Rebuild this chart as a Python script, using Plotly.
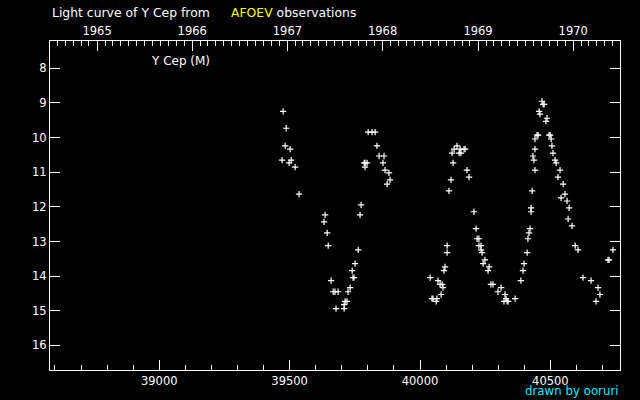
import datetime
import plotly.graph_objects as go

# JD - 2400000 and visual magnitude
jd = [39475, 39487, 39483, 39502, 39471, 39506, 39498, 39521, 39536,
      39636, 39632, 39644, 39648, 39659, 39667, 39674, 39686, 39678, 39709, 39709,
      39713, 39720, 39724, 39732, 39743, 39747, 39740, 39751, 39763, 39770, 39774,
      39789, 39797, 39786, 39789, 39801, 39816, 39828, 39835, 39843, 39862, 39858,
      39866, 39881, 39885, 39874,
      40039, 40069, 40077, 40085, 40088, 40081, 40046, 40050, 40065, 40062, 40096,
      40092, 40104, 40104, 40111, 40119, 40127, 40123, 40131, 40142, 40154, 40150,
      40157, 40169, 40173, 40180, 40188, 40207, 40215, 40219, 40226, 40226, 40234,
      40234, 40238, 40249, 40242, 40265, 40261, 40272, 40280, 40299, 40311, 40326,
      40330, 40322, 40334, 40338, 40365, 40387, 40395, 40399, 40411, 40414, 40418,
      40422, 40426, 40426, 40430, 40441, 40437, 40433, 40441, 40441, 40449, 40453,
      40457, 40460, 40468, 40472, 40476, 40487, 40483, 40495, 40499, 40503, 40506,
      40510, 40518, 40522, 40537, 40529, 40549, 40556, 40541, 40564, 40572, 40568,
      40583, 40595, 40606, 40625, 40656, 40683, 40690, 40675, 40721, 40725, 40740]
mag = [9.24, 9.73, 10.24, 10.33, 10.65, 10.65, 10.73, 10.85, 11.63,
       12.23, 12.43, 12.75, 13.12, 14.13, 14.45, 14.45, 14.45, 14.94, 14.94, 14.82,
       14.73, 14.73, 14.45, 14.33, 14.04, 14.04, 13.84, 13.64, 13.24, 12.23, 11.94,
       10.73, 10.73, 10.73, 10.85, 9.84, 9.84, 9.84, 10.24, 10.53, 10.53, 10.73,
       10.94, 11.02, 11.22, 11.34,
       14.04, 14.13, 14.24, 14.24, 14.33, 14.53, 14.65, 14.65, 14.65, 14.73, 13.73,
       13.84, 13.12, 13.32, 11.54, 11.22, 10.73, 10.45, 10.33, 10.24, 10.33, 10.45,
       10.45, 10.33, 10.33, 10.94, 11.14, 12.14, 12.63, 12.92, 12.92, 13.12, 13.12,
       13.24, 13.32, 13.53, 13.64, 13.73, 13.84, 14.24, 14.24, 14.45, 14.33, 14.53,
       14.65, 14.73, 14.73, 14.73, 14.65, 14.13, 13.84, 13.64, 13.32, 12.92, 12.75,
       12.63, 12.14, 12.03, 11.54, 10.94, 10.65, 10.53, 10.33, 10.04, 9.93, 9.93,
       9.24, 9.32, 8.95, 9.04, 9.04, 9.44, 9.53, 9.93, 9.93, 10.04, 10.24,
       10.45, 10.65, 10.73, 10.94, 11.14, 11.34, 11.63, 11.74, 11.83, 12.03, 12.35,
       12.55, 13.12, 13.24, 14.04, 14.13, 14.33, 14.53, 14.73, 13.53, 13.53, 13.24]

years = [1965, 1966, 1967, 1968, 1969, 1970]
jd_ticks = [39000, 39500, 40000, 40500]
mag_ticks = [8, 9, 10, 11, 12, 13, 14, 15, 16]

X_RANGE = [38581, 40767]
Y_RANGE = [16.71, 7.21]

def to_mjd(d):
    # JD - 2400000 at 0h UT
    return (d - datetime.date(1858, 11, 17)).days + 0.5

year_vals = [to_mjd(datetime.date(y, 1, 1)) for y in years]
month_vals = []
for y in range(1964, 1972):
    for m in range(2, 13):
        v = to_mjd(datetime.date(y, m, 1))
        if X_RANGE[0] <= v <= X_RANGE[1]:
            month_vals.append(v)

FONT = "DejaVu Sans"
TICKFONT = dict(family=FONT, size=11.5, color="white")

fig = go.Figure()
fig.add_trace(go.Scatter(
    x=jd, y=mag, mode="markers",
    marker=dict(symbol="cross-thin", size=4.5, color="white",
                line=dict(width=1.2, color="white")),
    showlegend=False, hoverinfo="skip"))
fig.add_trace(go.Scatter(x=[X_RANGE[0]], y=[None], xaxis="x2", mode="markers",
                         showlegend=False, hoverinfo="skip"))

fig.update_layout(
    template="none",
    width=640, height=400,
    paper_bgcolor="black", plot_bgcolor="black",
    margin=dict(l=50, r=20, t=41, b=30, pad=0),
    font=dict(family=FONT, size=12, color="white"),
    xaxis=dict(range=X_RANGE, showgrid=False, zeroline=False, automargin=False,
               showline=True, linecolor="white", linewidth=1,
               ticks="inside", ticklen=10, tickcolor="white", tickwidth=1,
               tickmode="array", tickvals=jd_ticks,
               ticktext=[str(v) for v in jd_ticks],
               minor=dict(ticks="inside", ticklen=5, tickcolor="white",
                          tick0=0, dtick=100, showgrid=False),
               tickfont=TICKFONT),
    xaxis2=dict(range=X_RANGE, overlaying="x", side="top", showgrid=False,
                zeroline=False, automargin=False,
                showline=True, linecolor="white", linewidth=1,
                ticks="inside", ticklen=10, tickcolor="white", tickwidth=1,
                tickmode="array", tickvals=year_vals,
                ticktext=[str(y) for y in years],
                minor=dict(ticks="inside", ticklen=5, tickcolor="white",
                           tickvals=month_vals, showgrid=False),
                tickfont=TICKFONT),
    yaxis=dict(range=Y_RANGE, showgrid=False, zeroline=False, automargin=False,
               showline=True, linecolor="white", linewidth=1, mirror="ticks",
               ticks="inside", ticklen=10, tickcolor="white", tickwidth=1,
               tickmode="array", tickvals=mag_ticks,
               ticktext=[str(v) for v in mag_ticks],
               tickfont=TICKFONT),
)

fig.add_annotation(text="Light curve of Y Cep from", xref="paper", yref="paper",
                   x=0, y=1.087, xanchor="left", yanchor="middle",
                   showarrow=False, font=dict(family=FONT, size=12.4, color="white"))
fig.add_annotation(text="<span style='color:yellow'>AFOEV</span> observations",
                   xref="paper", yref="paper", x=0.314, y=1.087,
                   xanchor="left", yanchor="middle", showarrow=False,
                   font=dict(family=FONT, size=12.4, color="white"))
fig.add_annotation(text="Y Cep (M)", xref="paper", yref="paper",
                   x=0.174, y=0.939, xanchor="left", yanchor="middle",
                   showarrow=False, font=dict(family=FONT, size=12, color="white"))
fig.add_annotation(text="drawn by ooruri", xref="paper", yref="paper",
                   x=0.9995, y=-0.0650, xanchor="right", yanchor="middle",
                   borderpad=0, showarrow=False,
                   font=dict(family=FONT, size=11.8, color="#00e8ff"))

fig.write_html("out.html",
               config={"displayModeBar": False},
               post_script="document.body.style.margin='0';"
                           "document.body.style.background='black';")
